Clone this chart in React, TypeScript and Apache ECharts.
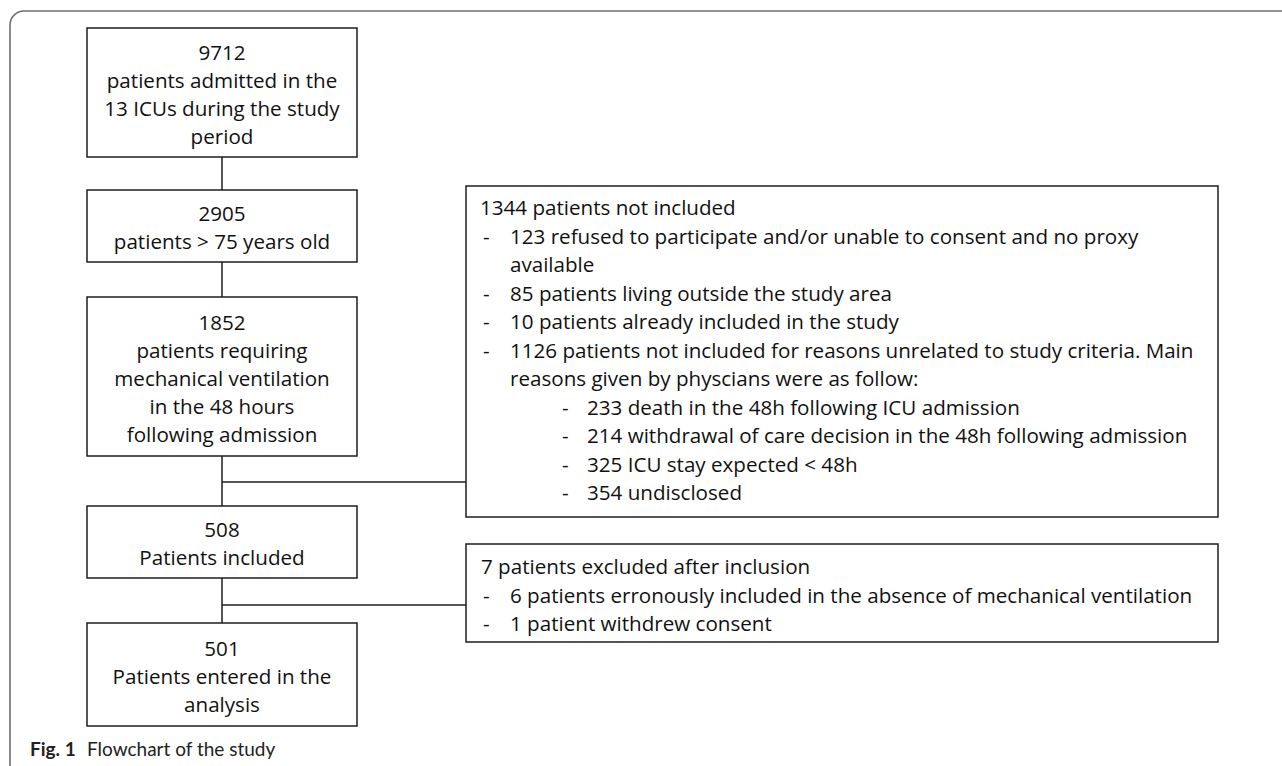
import React, { useEffect, useRef } from "react";
import * as echarts from "echarts";

// ---- Data ----
const mainCounts = [9712, 2905, 1852, 508, 501];
const mainLabels = [
  ["patients admitted in the", "13 ICUs during the study", "period"],
  ["patients > 75 years old"],
  ["patients requiring", "mechanical ventilation", "in the 48 hours", "following admission"],
  ["Patients included"],
  ["Patients entered in the", "analysis"],
];
const notIncludedTotal = 1344;
const notIncludedReasons = [
  ["123 refused to participate and/or unable to consent and no proxy", "available"],
  ["85 patients living outside the study area"],
  ["10 patients already included in the study"],
  ["1126 patients not included for reasons unrelated to study criteria. Main", "reasons given by physcians were as follow:"],
];
const subReasons = [
  "233 death in the 48h following ICU admission",
  "214 withdrawal of care decision in the 48h following admission",
  "325 ICU stay expected < 48h",
  "354 undisclosed",
];
const excludedTotal = 7;
const excludedReasons = [
  "6 patients erronously included in the absence of mechanical ventilation",
  "1 patient withdrew consent",
];
const captionBold = "Fig. 1";
const captionText = "Flowchart of the study";

// ---- Layout ----
const BOX_X = 87;
const BOX_W = 270;
const boxY: [number, number][] = [
  [28, 157],
  [190, 262],
  [297, 456],
  [506, 578],
  [623, 726],
];
const LINE_H = 28;
const FONT = '20.6px "Open Sans", Lato, sans-serif';
const STROKE = "#1e1e1e";

export default function App() {
  const ref = useRef<HTMLDivElement>(null);
  useEffect(() => {
    const chart = echarts.init(ref.current!, null, { renderer: "svg" });
    const els: any[] = [];
    const cx = BOX_X + BOX_W / 2;

    // outer frame
    els.push({
      type: "rect",
      shape: { x: 10, y: 11, width: 1320, height: 790, r: 14 },
      style: { fill: "#fff", stroke: "#6f6f6f", lineWidth: 1.6 },
      z: 0,
    });

    // main boxes
    mainCounts.forEach((c, i) => {
      const [y0, y1] = boxY[i];
      els.push({
        type: "rect",
        shape: { x: BOX_X, y: y0, width: BOX_W, height: y1 - y0 },
        style: { fill: "#fff", stroke: STROKE, lineWidth: 1.5 },
        z: 2,
      });
      const lines = [String(c), ...mainLabels[i]];
      const mid = (y0 + y1) / 2 + 1;
      const start = mid - ((lines.length - 1) * LINE_H) / 2;
      lines.forEach((t, k) => {
        els.push({
          type: "text",
          z: 3,
          style: {
            text: t,
            x: cx,
            y: start + k * LINE_H,
            font: FONT,
            fill: "#111",
            textAlign: "center",
            textVerticalAlign: "middle",
          },
        });
      });
      if (i < mainCounts.length - 1) {
        els.push({
          type: "line",
          z: 1,
          shape: { x1: cx, y1: y1, x2: cx, y2: boxY[i + 1][0] },
          style: { stroke: STROKE, lineWidth: 1.5 },
        });
      }
    });

    // side connectors
    const bigBox = { x: 466, y: 186, w: 752, h: 331 };
    const smallBox = { x: 466, y: 544, w: 752, h: 98 };
    els.push({
      type: "line",
      z: 1,
      shape: { x1: cx, y1: 482, x2: bigBox.x, y2: 482 },
      style: { stroke: STROKE, lineWidth: 1.5 },
    });
    els.push({
      type: "line",
      z: 1,
      shape: { x1: cx, y1: 605, x2: smallBox.x, y2: 605 },
      style: { stroke: STROKE, lineWidth: 1.5 },
    });

    // big box
    els.push({
      type: "rect",
      z: 2,
      shape: { x: bigBox.x, y: bigBox.y, width: bigBox.w, height: bigBox.h },
      style: { fill: "#fff", stroke: STROKE, lineWidth: 1.5 },
    });
    const SP = 28.5;
    let ly = 207;
    const txt = (t: string, x: number, y: number) =>
      els.push({
        type: "text",
        z: 3,
        style: { text: t, x, y, font: FONT, fill: "#111", textAlign: "left", textVerticalAlign: "middle" },
      });
    txt(`${notIncludedTotal} patients not included`, 480, ly);
    ly += SP;
    notIncludedReasons.forEach((r) => {
      txt("-", 483, ly);
      r.forEach((t) => {
        txt(t, 510, ly);
        ly += SP;
      });
    });
    subReasons.forEach((t) => {
      txt("-", 562, ly);
      txt(t, 587, ly);
      ly += SP;
    });

    // small box
    els.push({
      type: "rect",
      z: 2,
      shape: { x: smallBox.x, y: smallBox.y, width: smallBox.w, height: smallBox.h },
      style: { fill: "#fff", stroke: STROKE, lineWidth: 1.5 },
    });
    let sy = 566;
    txt(`${excludedTotal} patients excluded after inclusion`, 481, sy);
    sy += SP;
    excludedReasons.forEach((t) => {
      txt("-", 483, sy);
      txt(t, 510, sy);
      sy += SP;
    });

    // caption
    els.push({
      type: "text",
      z: 3,
      style: {
        text: captionBold,
        x: 30,
        y: 748,
        font: 'bold 19px Lato, "Open Sans", sans-serif',
        fill: "#222",
        textAlign: "left",
        textVerticalAlign: "middle",
      },
    });
    els.push({
      type: "text",
      z: 3,
      style: {
        text: captionText,
        x: 87,
        y: 748,
        font: '19px Lato, "Open Sans", sans-serif',
        fill: "#222",
        textAlign: "left",
        textVerticalAlign: "middle",
      },
    });

    chart.setOption({ animation: false, graphic: { elements: els } });
    return () => chart.dispose();
  }, []);
  return (
    <div
      ref={ref}
      style={{ position: "absolute", left: 0, top: 0, width: 1282, height: 766, background: "#fff" }}
    />
  );
}
